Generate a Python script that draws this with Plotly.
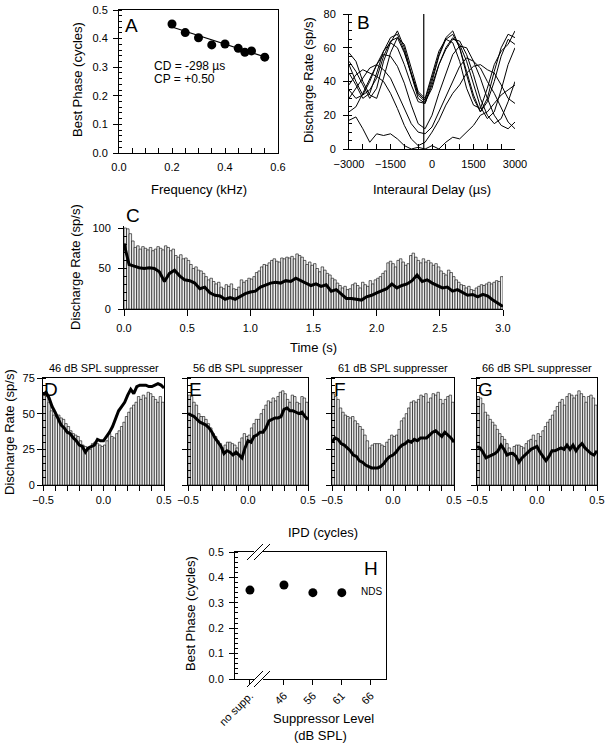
import numpy as np
import plotly.graph_objects as go

W, H = 607, 746
FONT = "Liberation Sans, Arial, Helvetica, sans-serif"

# ---------------- Panel A : best phase vs frequency ----------------
freq_khz = [0.20, 0.25, 0.30, 0.35, 0.40, 0.45, 0.475, 0.50, 0.55]
best_phase = [0.451, 0.421, 0.403, 0.378, 0.381, 0.366, 0.352, 0.357, 0.335]
cd_us = -298
cp_cycles = 0.50

# ---------------- Panel B : ITD curves (one per frequency) ----------------
itd_us = list(range(-3000, 3001, 250))
rate_200 = [17, 19, 12, 4, 9, 8, 9, 6, 2, 0, 1, 0, 2, 0, 4, 7, 6, 10, 14, 20, 22, 27, 32, 35, 38]
rate_250 = [38, 44, 47, 45, 43, 40, 33, 24, 14, 6, 2, 4, 10, 17, 26, 33, 38, 45, 49, 50, 47, 45, 38, 30, 27]
rate_300 = [30, 36, 42, 48, 50, 47, 42, 33, 24, 15, 10, 9, 13, 22, 32, 41, 49, 54, 52, 48, 40, 33, 24, 16, 12]
rate_350 = [22, 25, 33, 42, 50, 56, 55, 49, 39, 26, 15, 12, 20, 33, 45, 56, 61, 60, 52, 42, 30, 20, 14, 12, 16]
rate_400 = [35, 30, 32, 40, 50, 58, 63, 60, 50, 38, 28, 27, 38, 50, 59, 65, 64, 56, 44, 30, 20, 15, 18, 28, 40]
rate_450 = [50, 40, 32, 35, 42, 55, 64, 66, 57, 45, 32, 28, 36, 50, 60, 66, 62, 52, 38, 25, 18, 22, 35, 50, 60]
rate_475 = [45, 38, 30, 33, 45, 58, 66, 68, 58, 44, 30, 27, 40, 55, 65, 68, 60, 46, 32, 22, 28, 40, 55, 65, 62]
rate_500 = [52, 46, 38, 30, 36, 52, 63, 70, 60, 45, 33, 29, 42, 56, 66, 70, 60, 44, 30, 22, 30, 46, 60, 68, 66]
rate_550 = [57, 52, 40, 32, 30, 42, 57, 66, 62, 48, 34, 30, 44, 58, 65, 63, 52, 36, 26, 24, 36, 50, 58, 62, 70]

# ---------------- Panel C : binaural beat PSTH ----------------
c_bin_s = 0.02
c_bars = [100, 99, 93, 84, 76, 78, 74, 77, 75, 73,
          76, 72, 74, 77, 75, 73, 78, 76, 72, 74,
          66, 64, 67, 62, 63, 60, 55, 50, 52, 48,
          47, 44, 40, 36, 38, 34, 31, 33, 27, 25,
          30, 28, 31, 25, 24, 27, 36, 33, 35, 38,
          37, 40, 45, 47, 52, 55, 54, 57, 60, 62,
          59, 58, 63, 62, 64, 63, 65, 62, 68, 66,
          64, 60, 55, 58, 54, 56, 50, 46, 52, 48,
          44, 42, 38, 36, 32, 29, 26, 28, 24, 25,
          30, 32, 29, 26, 33, 30, 28, 35, 31, 36,
          38, 40, 44, 47, 57, 59, 56, 52, 60, 62,
          58, 54, 56, 66, 69, 64, 60, 57, 62, 58,
          60, 57, 54, 56, 52, 47, 44, 42, 48, 45,
          40, 36, 33, 30, 29, 26, 28, 24, 23, 26,
          28, 30, 29, 31, 33, 31, 33, 35, 34, 40]
c_line_step = 0.04
c_line = [81, 55, 53, 51, 50, 51, 50, 46, 34, 44,
          48, 41, 36, 35, 32, 25, 27, 20, 17, 16,
          12, 14, 12, 16, 19, 21, 22, 27, 30, 32,
          33, 32, 35, 34, 38, 35, 32, 29, 31, 28,
          30, 22, 24, 18, 13, 13, 12, 11, 15, 17,
          20, 23, 25, 31, 26, 29, 31, 35, 42, 34,
          36, 32, 29, 26, 27, 22, 24, 20, 17, 18,
          15, 18, 16, 11, 7, 3]

# ---------------- Panels D-G : IPD histograms with suppressor ----------------
ipd_bin = 0.02
ipd_line_step = 0.025
supp_titles = ["46 dB SPL suppresser", "56 dB SPL suppresser",
               "61 dB SPL suppresser", "66 dB SPL suppresser"]
supp_letters = ["D", "E", "F", "G"]
d_bars = [64, 62, 58, 52, 49, 48, 49, 47, 46, 43, 41, 38, 36, 35, 34, 31, 28, 27, 26, 25,
          29, 30, 29, 28, 27, 28, 31, 36, 34, 33, 36, 38, 41, 44, 48, 51, 54, 56, 58, 62,
          60, 63, 61, 65, 64, 62, 60, 58, 62, 58]
d_line = [63, 65, 61, 55, 51, 47, 42, 40, 37, 36, 33, 31, 28, 27, 23, 26, 27, 28, 32, 31,
          31, 34, 37, 41, 46, 52, 55, 58, 63, 67, 64, 69, 70, 70, 70, 69, 69, 70, 71, 70, 68]
e_bars = [63, 62, 58, 56, 50, 48, 48, 46, 43, 40, 36, 34, 31, 29, 26, 28, 30, 30, 29, 28,
          26, 30, 33, 36, 34, 35, 40, 43, 46, 46, 50, 53, 56, 59, 58, 61, 59, 62, 65, 66,
          64, 60, 58, 63, 62, 58, 57, 62, 61, 58]
e_line = [50, 49, 48, 46, 44, 43, 42, 40, 37, 33, 30, 27, 22, 24, 23, 21, 23, 21, 19, 26,
          31, 30, 34, 35, 37, 37, 40, 45, 46, 47, 47, 48, 53, 54, 52, 52, 51, 50, 51, 48, 46]
f_bars = [64, 62, 60, 54, 51, 49, 48, 47, 48, 45, 43, 41, 39, 35, 31, 26, 28, 29, 29, 29,
          28, 27, 30, 32, 35, 34, 35, 39, 45, 47, 50, 54, 58, 59, 58, 60, 63, 62, 64, 58,
          61, 64, 63, 65, 60, 57, 60, 62, 63, 58]
f_line = [30, 33, 32, 29, 28, 26, 24, 21, 20, 17, 16, 14, 13, 12, 12, 12, 13, 15, 18, 20,
          21, 23, 26, 28, 29, 31, 30, 32, 31, 33, 33, 33, 35, 37, 38, 36, 34, 37, 35, 33, 30]
g_bars = [62, 61, 57, 51, 49, 46, 44, 42, 39, 36, 34, 32, 29, 26, 23, 27, 28, 28, 27, 26,
          29, 31, 32, 35, 31, 36, 34, 38, 41, 44, 46, 49, 52, 55, 58, 60, 56, 62, 64, 63,
          61, 63, 66, 64, 62, 58, 62, 63, 61, 56]
g_line = [27, 26, 23, 19, 20, 21, 22, 24, 28, 25, 21, 22, 22, 20, 16, 19, 21, 23, 25, 26,
          27, 23, 20, 17, 20, 24, 24, 25, 26, 25, 28, 25, 28, 24, 27, 29, 26, 24, 22, 21, 24]

# ---------------- Panel H : best phase vs suppressor level ----------------
h_labels = ["no supp.", "46", "56", "61", "66"]
h_positions = [0.0, 1.0, 1.85, 2.7, 3.55]
h_phase = [0.35, 0.37, 0.34, 0.34]       # 66 dB: no discharge synchrony (NDS)
h_nds_text = "NDS"

# ======================================================================
def xd(a, b):
    return [a / W, b / W]


def yd(top, bottom):
    return [1 - bottom / H, 1 - top / H]


def axis(domain, rng, **kw):
    d = dict(domain=domain, range=rng, showline=True, linecolor="black",
             linewidth=1, showgrid=False, zeroline=False, ticks="outside",
             ticklen=5, tickwidth=1, tickcolor="black", automargin=False,
             tickfont=dict(size=11, family=FONT, color="black"))
    d.update(kw)
    return d


def minor(dt, ticks="inside", ln=3):
    return dict(dtick=dt, ticks=ticks, ticklen=ln, tickcolor="black", tickwidth=1,
                showgrid=False)


fig = go.Figure()
BAR_MARKER = dict(color="#ececec", line=dict(color="black", width=0.6))

# A
fig.add_trace(go.Scatter(x=freq_khz, y=best_phase, mode="markers",
                         marker=dict(color="black", size=9), xaxis="x", yaxis="y"))
fit_x = [min(freq_khz), max(freq_khz)]
fit_y = [cp_cycles + cd_us / 1000.0 * f for f in fit_x]
fig.add_trace(go.Scatter(x=fit_x, y=fit_y, mode="lines",
                         line=dict(color="black", width=1.2), xaxis="x", yaxis="y"))

# B
for r in [rate_200, rate_250, rate_300, rate_350, rate_400,
          rate_450, rate_475, rate_500, rate_550]:
    fig.add_trace(go.Scatter(x=itd_us, y=r, mode="lines",
                             line=dict(color="black", width=1), xaxis="x2", yaxis="y2"))
fig.add_trace(go.Scatter(x=[cd_us, cd_us], y=[0, 80], mode="lines",
                         line=dict(color="black", width=1.2), xaxis="x2", yaxis="y2"))

# C
c_x = [c_bin_s * (i + 0.5) for i in range(len(c_bars))]
fig.add_trace(go.Bar(x=c_x, y=c_bars, width=c_bin_s, marker=BAR_MARKER,
                     xaxis="x3", yaxis="y3"))
c_lx = [c_line_step * i for i in range(len(c_line))]
fig.add_trace(go.Scatter(x=c_lx, y=c_line, mode="lines",
                         line=dict(color="black", width=3), xaxis="x3", yaxis="y3"))

# D-G
ipd_x = [round(-0.5 + ipd_bin * (i + 0.5), 4) for i in range(50)]
ipd_lx = [round(-0.5 + ipd_line_step * i, 4) for i in range(41)]
for k, (bars, line) in enumerate([(d_bars, d_line), (e_bars, e_line),
                                  (f_bars, f_line), (g_bars, g_line)]):
    xa, ya = "x%d" % (4 + k), "y%d" % (4 + k)
    fig.add_trace(go.Bar(x=ipd_x, y=bars, width=ipd_bin, marker=BAR_MARKER,
                         xaxis=xa, yaxis=ya))
    fig.add_trace(go.Scatter(x=ipd_lx, y=line, mode="lines",
                             line=dict(color="black", width=3), xaxis=xa, yaxis=ya))

# H
fig.add_trace(go.Scatter(x=h_positions[:len(h_phase)], y=h_phase, mode="markers",
                         marker=dict(color="black", size=9), xaxis="x8", yaxis="y8"))

# ---------------- layout ----------------
lay = dict(width=W, height=H, margin=dict(l=0, r=0, t=0, b=0, pad=0), autosize=False,
           paper_bgcolor="white", plot_bgcolor="white", showlegend=False,
           barmode="overlay", font=dict(family=FONT, color="black", size=11))

lay["xaxis"] = axis(xd(119, 278), [0, 0.6], dtick=0.2, tickformat=".1f", ticks="inside",
                    minor=minor(0.05, "inside", 5), mirror=True, anchor="y",
                    ticklabelstandoff=4)
lay["yaxis"] = axis(yd(10, 153), [0, 0.5], dtick=0.1, tickformat=".1f",
                    minor=minor(0.02), mirror=True, anchor="x", ticklabelstandoff=3)

lay["xaxis2"] = axis(xd(349, 515), [-3000, 3000], dtick=1500, tick0=0, ticks="inside",
                     minor=minor(500, "inside", 5), anchor="y2", ticklabelstandoff=5)
lay["yaxis2"] = axis(yd(14, 149), [0, 80], dtick=20, minor=minor(5), anchor="x2",
                     ticklabelstandoff=5)

lay["xaxis3"] = axis(xd(124, 503), [0, 3.0], dtick=0.5, tickformat=".1f", ticklen=6,
                     anchor="y3", ticklabelstandoff=3)
lay["yaxis3"] = axis(yd(225.6, 309), [0, 103], tickvals=[0, 50, 100],
                     minor=dict(tickvals=list(range(10, 100, 10)), ticks="inside",
                                ticklen=3, tickcolor="black"), anchor="x3",
                     ticklabelstandoff=5)

panel_px = [(43, 164), (188, 308), (332, 454), (477, 597)]
for k, (a, b) in enumerate(panel_px):
    n = 4 + k
    lay["xaxis%d" % n] = axis(xd(a, b), [-0.5, 0.5], dtick=0.5, tick0=0, tickformat=".1f",
                              minor=minor(0.1, "outside", 5), mirror=True,
                              anchor="y%d" % n)
    lay["yaxis%d" % n] = axis(yd(378, 485), [0, 75], dtick=25, minor=minor(5),
                              mirror=True, showticklabels=(k == 0),
                              anchor="x%d" % n)

lay["xaxis8"] = axis(xd(235, 386), [-0.44, 4.0], tickmode="array", tickvals=h_positions,
                     ticktext=h_labels, tickangle=-45, mirror=True, anchor="y8")
lay["yaxis8"] = axis(yd(552, 679), [0, 0.5], dtick=0.1, tickformat=".1f",
                     minor=minor(0.02), mirror=True, anchor="x8", ticklabelstandoff=3)


def ann(text, x, y, size=13, angle=0, xanchor="center", yanchor="middle"):
    return dict(text=text, x=x / W, y=1 - y / H, xref="paper", yref="paper",
                showarrow=False, textangle=angle, xanchor=xanchor, yanchor=yanchor,
                font=dict(size=size, family=FONT, color="black"))


anns = [
    ann("Best Phase (cycles)", 78, 80, angle=-90),
    ann("Frequency (kHz)", 199, 190),
    ann("Discharge Rate (sp/s)", 309, 80, angle=-90),
    ann("Interaural Delay (µs)", 432, 190),
    ann("Discharge Rate (sp/s)", 75, 267, angle=-90),
    ann("Time (s)", 313, 347),
    ann("Discharge Rate (sp/s)", 9, 432, angle=-90),
    ann("IPD (cycles)", 323, 532),
    ann("Best Phase (cycles)", 190, 614, angle=-90),
    ann("Suppressor Level", 323, 718),
    ann("(dB SPL)", 320, 735),
    ann("CD = %d µs" % cd_us, 152, 66, size=12, xanchor="left"),
    ann("CP = +%.2f" % cp_cycles, 152, 79, size=12, xanchor="left"),
    ann("A", 131, 25, size=19),
    ann("B", 363, 22, size=19),
    ann("C", 133, 216, size=19),
    ann("H", 371, 568, size=19),
    ann(h_nds_text, 371, 591, size=10),
]
for k, (a, b) in enumerate(panel_px):
    anns.append(ann(supp_titles[k], (a + b) / 2, 368, size=11))
    anns.append(ann(supp_letters[k], a + 8, 389, size=19, xanchor="center"))
lay["annotations"] = anns

# axis-break marks on panel H
shapes = []
for (y0, y1) in [(560, 544), (687, 671)]:
    shapes.append(dict(type="line", xref="paper", yref="paper",
                       x0=254 / W, x1=263 / W, y0=1 - (y0 + y1) / 2 / H, y1=1 - (y0 + y1) / 2 / H,
                       line=dict(color="white", width=3)))
    for dx in (0, 7):
        shapes.append(dict(type="line", xref="paper", yref="paper",
                           x0=(247 + dx) / W, x1=(263 + dx) / W,
                           y0=1 - y0 / H, y1=1 - y1 / H,
                           line=dict(color="black", width=1)))
lay["shapes"] = shapes

fig.update_layout(**lay)
fig.write_html("out.html", config={"displayModeBar": False},
               post_script="document.body.style.margin='0';document.body.style.overflow='hidden';")
